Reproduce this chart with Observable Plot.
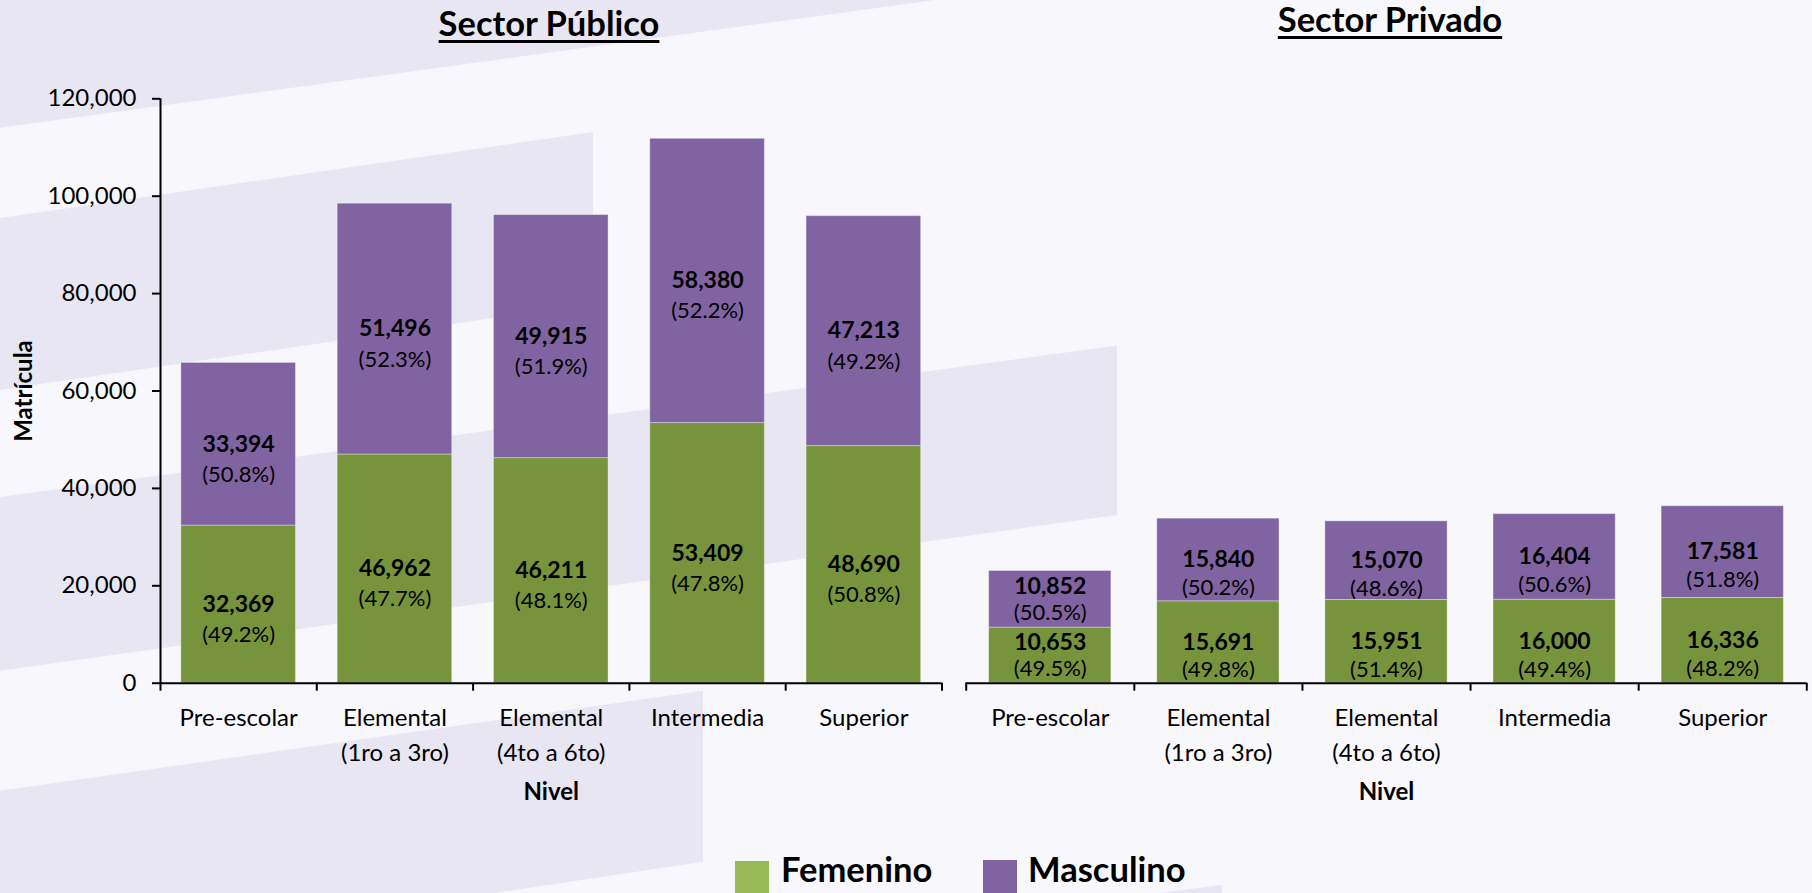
<!DOCTYPE html>
<html>
<head>
<meta charset="utf-8">
<script src="https://cdn.jsdelivr.net/npm/d3@7"></script>
<script src="https://cdn.jsdelivr.net/npm/@observablehq/plot@0.6"></script>
<style>
html, body { margin: 0; padding: 0; }
body { width: 1812px; height: 893px; overflow: hidden; background: #F7F7FC; font-family: Lato, sans-serif; position: relative; color: #000; }
#bg { position: absolute; left: 0; top: 0; }
.title { position: absolute; font-weight: 700; font-size: 34.5px; line-height: 1; text-decoration: underline; text-decoration-thickness: 3px; text-underline-offset: 4px; transform: translateX(-50%); white-space: nowrap; }
.chart { position: absolute; top: 0; }
.chart svg { overflow: visible; }
.chart svg [aria-label^="y-axis"] line, .chart svg [aria-label^="y-axis"] path { stroke-width: 2; }
.sw { position: absolute; width: 34px; height: 34px; }
.lg { position: absolute; font-weight: 700; font-size: 34.5px; line-height: 1; white-space: nowrap; }
</style>
</head>
<body>
<svg id="bg" width="1812" height="893">
  <g fill="#E8E6F3">
    <polygon points="0,0 935,0 0,127.7"/>
    <polygon points="0,218 593,132 593,303.4 0,390"/>
    <polygon points="0,497 1117,345.6 1117,515 0,670.7"/>
    <polygon points="0,790.7 703,690.7 703,861.7 0,967"/>
    <polygon points="1160,893 1222,885 1222,893"/>
  </g>
</svg>
<div class="title" style="left:549px; top:6px;">Sector Público</div>
<div class="title" style="left:1390px; top:2px;">Sector Privado</div>
<div id="left" class="chart" style="left:0px; width:960px;"></div>
<div id="right" class="chart" style="left:900px; width:912px;"></div>
<div class="sw" style="left:735px; top:861px; background:#9BBB59;"></div>
<div class="lg" style="left:781px; top:852px;">Femenino</div>
<div class="sw" style="left:983px; top:860px; background:#8064A2;"></div>
<div class="lg" style="left:1028px; top:852px;">Masculino</div>
<script>
// ---- data ----
const categories = ["Pre-escolar", "Elemental\n(1ro a 3ro)", "Elemental\n(4to a 6to)", "Intermedia", "Superior"];
const publicoFemenino = [32369, 46962, 46211, 53409, 48690];
const publicoMasculino = [33394, 51496, 49915, 58380, 47213];
const publicoFemeninoPct = [49.2, 47.7, 48.1, 47.8, 50.8];
const publicoMasculinoPct = [50.8, 52.3, 51.9, 52.2, 49.2];
const privadoFemenino = [10653, 15691, 15951, 16000, 16336];
const privadoMasculino = [10852, 15840, 15070, 16404, 17581];
const privadoFemeninoPct = [49.5, 49.8, 51.4, 49.4, 48.2];
const privadoMasculinoPct = [50.5, 50.2, 48.6, 50.6, 51.8];
const yTicksPublico = [0, 20000, 40000, 60000, 80000, 100000, 120000];
const xTitle = "Nivel";
const yTitle = "Matrícula";

const GREEN = "#77933C", PURPLE = "#8064A2";
const fmt = d3.format(",");
const fmtPct = p => "(" + p.toFixed(1) + "%)";

function segments(fem, masc, femPct, mascPct, yMax) {
  const rows = [];
  fem.forEach((f, i) => {
    const m = masc[i];
    rows.push({i, sex: "F", y1: 0, y2: f, v: f, p: femPct[i]});
    rows.push({i, sex: "M", y1: f, y2: f + m, v: m, p: mascPct[i]});
  });
  rows.forEach(r => { r.small = (r.y2 - r.y1) < 0.12 * yMax; });
  return rows;
}

function chart({fem, masc, femPct, mascPct, yMax, width, marginLeft, marginRight, inset, pctDy, showY}) {
  const segs = segments(fem, masc, femPct, mascPct, yMax);
  const bounds = d3.range(categories.length + 1);
  const mid = d => (d.y1 + d.y2) / 2;
  const cx = d => d.i + 0.5;
  const marks = [
    Plot.rect(segs.filter(d => d.sex === "F"), {x1: d => d.i, x2: d => d.i + 1, y1: "y1", y2: "y2", insetLeft: inset, insetRight: inset, fill: GREEN, stroke: "#ffffff", strokeOpacity: 0.35, strokeWidth: 1}),
    Plot.rect(segs.filter(d => d.sex === "M"), {x1: d => d.i, x2: d => d.i + 1, y1: "y1", y2: "y2", insetLeft: inset, insetRight: inset, fill: PURPLE, stroke: "#ffffff", strokeOpacity: 0.35, strokeWidth: 1}),
    Plot.text(segs, {filter: d => !d.small, x: cx, y: mid, text: d => fmt(d.v), fontWeight: "bold", fontSize: 23, fill: "#000"}),
    Plot.text(segs, {filter: d => !d.small, x: cx, y: mid, text: d => fmtPct(d.p), fontSize: 22, dy: pctDy, fill: "#000"}),
    Plot.text(segs, {filter: d => d.small, x: cx, y: mid, text: d => fmt(d.v), fontWeight: "bold", fontSize: 23, dy: -12.5, fill: "#000"}),
    Plot.text(segs, {filter: d => d.small, x: cx, y: mid, text: d => fmtPct(d.p), fontSize: 22, dy: 13.5, fill: "#000"}),
    Plot.ruleY([0], {stroke: "#000", strokeWidth: 2}),
    Plot.ruleX(bounds, {x: d => d, y1: 0, y2: 0, insetBottom: -8, stroke: "#000", strokeWidth: 2}),
    Plot.text(categories, {x: (d, i) => i + 0.5, y: 0, text: d => d, lineAnchor: "top", lineHeight: 1.45, dy: 18, fontSize: 24, fill: "#000"}),
    Plot.text([xTitle], {frameAnchor: "bottom", text: d => d, lineAnchor: "middle", dy: 109, fontSize: 24, fontWeight: "bold", fill: "#000"})
  ];
  if (showY) {
    marks.push(Plot.ruleX([0], {stroke: "#000", strokeWidth: 2}));
    marks.push(Plot.text([yTitle], {frameAnchor: "left", text: d => d, rotate: -90, textAnchor: "middle", lineAnchor: "middle", dx: -136, fontSize: 24, fontWeight: "bold", fill: "#000"}));
  }
  return Plot.plot({
    width, height: 800,
    marginLeft, marginRight, marginTop: 98.3, marginBottom: 117.3,
    style: {background: "transparent", fontFamily: "Lato, sans-serif", fontSize: "24px", color: "#000", overflow: "visible"},
    x: {domain: [0, categories.length], axis: null},
    y: showY
      ? {domain: [0, yMax], ticks: yTicksPublico, tickFormat: fmt, tickSize: 8, tickPadding: 16, label: null}
      : {domain: [0, yMax], axis: null},
    marks
  });
}

document.getElementById("left").append(chart({
  fem: publicoFemenino, masc: publicoMasculino, femPct: publicoFemeninoPct, mascPct: publicoMasculinoPct,
  yMax: 120000, width: 960, marginLeft: 160, marginRight: 18.5, inset: 20.85, pctDy: 30.5, showY: true
}));
document.getElementById("right").append(chart({
  fem: privadoFemenino, masc: privadoMasculino, femPct: privadoFemeninoPct, mascPct: privadoMasculinoPct,
  yMax: 112000, width: 912, marginLeft: 65.7, marginRight: 5.7, inset: 22.95, pctDy: 28, showY: false
}));
</script>
</body>
</html>
